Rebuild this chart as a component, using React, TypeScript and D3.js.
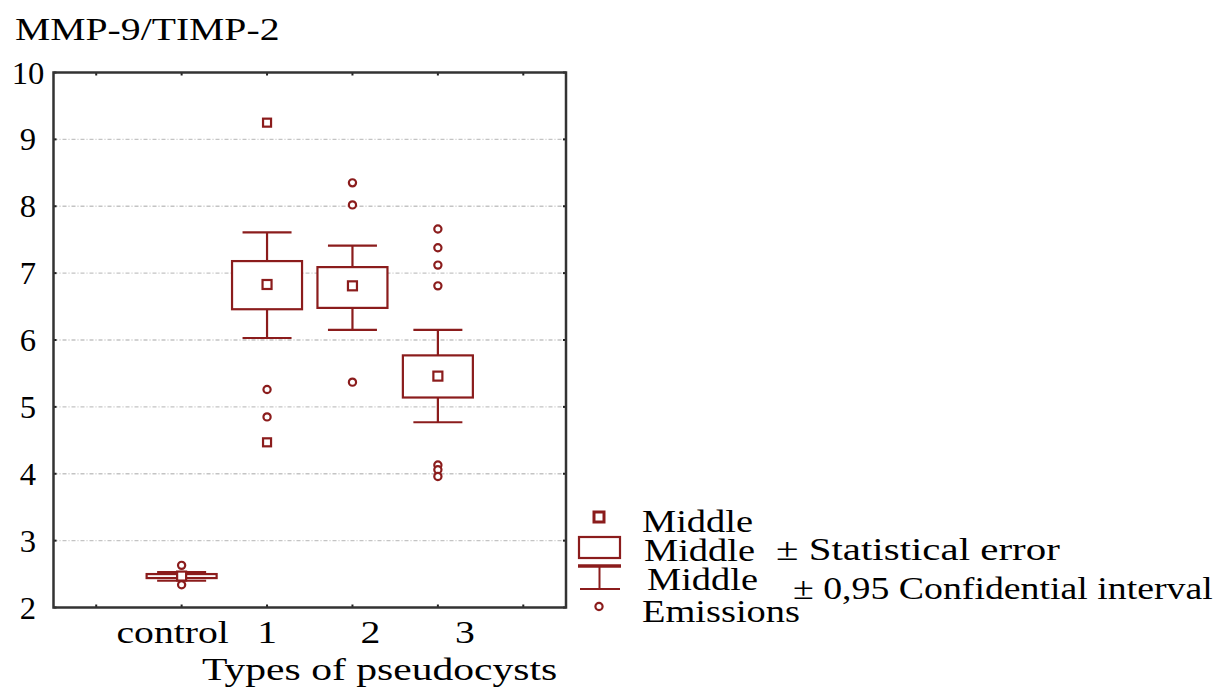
import * as d3 from 'd3';

// chart values
const categories = ['control', '1', '2', '3'];
const means = [2.47, 6.83, 6.81, 5.46];
const seLow = [2.44, 6.46, 6.48, 5.14];
const seHigh = [2.5, 7.18, 7.09, 5.77];
const ciLow = [2.4, 6.03, 6.15, 4.77];
const ciHigh = [2.53, 7.61, 7.41, 6.15];
const outliers = [
  [2.63, 2.34],
  [5.26, 4.85],
  [8.35, 8.02, 5.37],
  [7.66, 7.38, 7.12, 6.81, 4.13, 4.06, 3.96]
];
const extremes = [[], [9.25, 4.47], [], []];
const yTicks = [2, 3, 4, 5, 6, 7, 8, 9, 10];

const W = 1231;
const H = 689;
const margin = { top: 72.5, right: 665, bottom: 81.5, left: 53.5 };
const RED = '#8b1c1c';
const FONT = '"Liberation Serif", "Times New Roman", serif';

function Txt({ x, y, children, anchor = 'start', size = 32, sx = 1.24 }: any) {
  return (
    <text
      transform={`translate(${x},${y}) scale(${sx},1)`}
      textAnchor={anchor}
      fontFamily={FONT}
      fontSize={size}
      fill="#000"
    >
      {children}
    </text>
  );
}

export default function App() {
  const x0 = margin.left;
  const x1 = W - margin.right;
  const y0 = margin.top;
  const y1 = H - margin.bottom;

  const y = d3.scaleLinear().domain([2, 10]).range([y1, y0]);
  const x = d3
    .scalePoint<string>()
    .domain(['_l', ...categories, '_r'])
    .range([x0, x1])
    .padding(0.5);

  const boxW = 70;
  const capW = 49;
  // the category labels sit a little off their ticks in the original
  const labelShift = [-9, 0, 18, 27];

  return (
    <svg width={W} height={H} style={{ position: 'absolute', left: 0, top: 0, background: '#fff' }}>
      <rect width={W} height={H} fill="#fff" />
      <Txt x={15} y={40}>MMP-9/TIMP-2</Txt>

      {/* grid */}
      {yTicks.slice(1, -1).map((t) => (
        <line
          key={'g' + t}
          x1={x0}
          x2={x1}
          y1={y(t)}
          y2={y(t)}
          stroke="#c4c4c4"
          strokeWidth={1.4}
          strokeDasharray="4,2,1,2"
        />
      ))}

      {/* y ticks + labels */}
      {yTicks.map((t) => (
        <g key={'y' + t}>
          <line x1={x0} x2={x0 + 3} y1={y(t)} y2={y(t)} stroke="#222" strokeWidth={2} />
          <line x1={x1 - 3} x2={x1} y1={y(t)} y2={y(t)} stroke="#222" strokeWidth={2} />
          <Txt x={28} y={y(t) + 11} anchor="middle" sx={1.02}>
            {t}
          </Txt>
        </g>
      ))}

      {/* x ticks */}
      {x.domain().map((d) => (
        <g key={'x' + d}>
          <line x1={x(d)} x2={x(d)} y1={y1} y2={y1 - 3} stroke="#222" strokeWidth={2} />
          <line x1={x(d)} x2={x(d)} y1={y0} y2={y0 + 3} stroke="#222" strokeWidth={2} />
        </g>
      ))}

      {categories.map((c, i) => (
        <Txt key={'l' + c} x={(x(c) as number) + labelShift[i]} y={643} anchor="middle">
          {c}
        </Txt>
      ))}
      <Txt x={202} y={680} sx={1.3}>Types of pseudocysts</Txt>

      {/* boxes */}
      {categories.map((c, i) => {
        const cx = x(c) as number;
        return (
          <g key={'b' + c} stroke={RED} fill="none" strokeWidth={2.2}>
            <line x1={cx} x2={cx} y1={y(ciHigh[i])} y2={y(seHigh[i])} />
            <line x1={cx} x2={cx} y1={y(seLow[i])} y2={y(ciLow[i])} />
            <line x1={cx - capW / 2} x2={cx + capW / 2} y1={y(ciHigh[i])} y2={y(ciHigh[i])} />
            <line x1={cx - capW / 2} x2={cx + capW / 2} y1={y(ciLow[i])} y2={y(ciLow[i])} />
            <rect
              x={cx - boxW / 2}
              y={y(seHigh[i])}
              width={boxW}
              height={y(seLow[i]) - y(seHigh[i])}
              fill="#fff"
            />
            <rect x={cx - 4.5} y={y(means[i]) - 4.5} width={9} height={9} fill="#fff" />
            {outliers[i].map((v, j) => (
              <circle key={'o' + j} cx={cx} cy={y(v)} r={3.6} fill="#fff" />
            ))}
            {extremes[i].map((v, j) => (
              <rect key={'e' + j} x={cx - 4} y={y(v) - 4} width={8} height={8} fill="#fff" />
            ))}
          </g>
        );
      })}

      {/* frame */}
      <rect x={x0} y={y0} width={x1 - x0} height={y1 - y0} fill="none" stroke="#333" strokeWidth={2.5} />

      {/* legend */}
      <g stroke={RED} fill="none">
        <rect x={594} y={512} width={10} height={10} strokeWidth={3} />
        <rect x={579} y={537} width={41} height={21} strokeWidth={2.2} />
        <line x1={578} x2={621} y1={566} y2={566} strokeWidth={3.5} />
        <line x1={599.5} x2={599.5} y1={566} y2={589} strokeWidth={2} />
        <line x1={580} x2={620} y1={589} y2={589} strokeWidth={2} />
        <circle cx={599} cy={606.5} r={3.6} strokeWidth={2.2} />
      </g>
      <Txt x={642} y={532} size={31}>Middle</Txt>
      <Txt x={644} y={561} size={31}>Middle</Txt>
      <Txt x={776} y={560} size={31} sx={1.32}>± Statistical error</Txt>
      <Txt x={647} y={590} size={31}>Middle</Txt>
      <Txt x={793} y={599} size={31} sx={1.22}>± 0,95 Confidential interval</Txt>
      <Txt x={642} y={622} size={31}>Emissions</Txt>
    </svg>
  );
}
